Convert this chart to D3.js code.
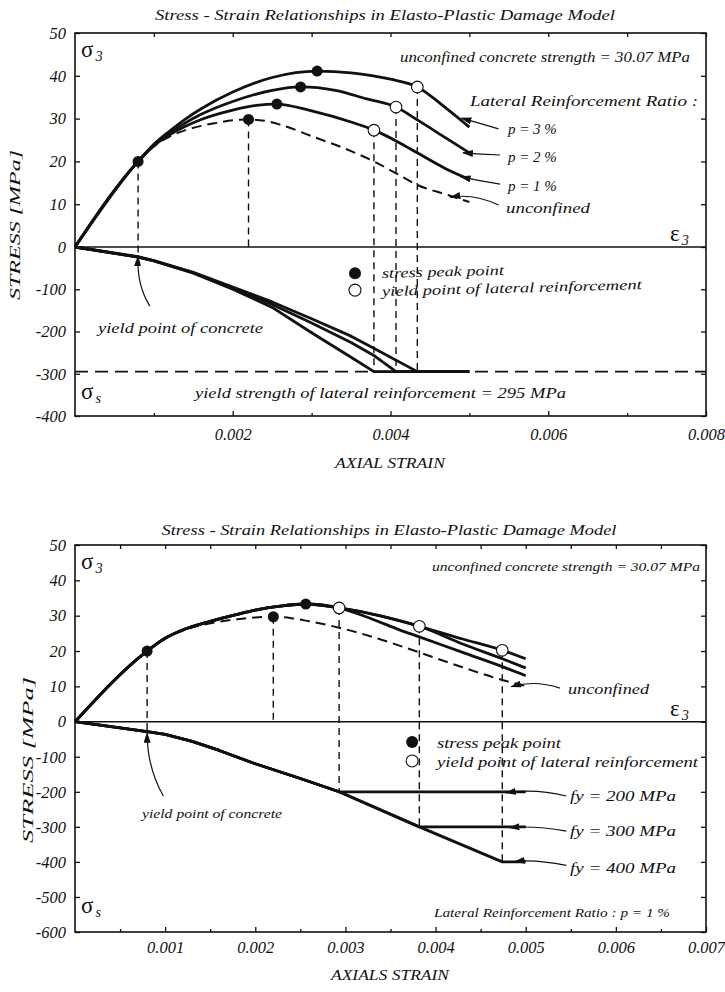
<!DOCTYPE html>
<html><head><meta charset="utf-8">
<script src="https://cdn.jsdelivr.net/npm/d3@7"></script>
<style>body{margin:0;background:#fff}</style>
</head><body><svg id="c" width="725" height="992"></svg>
<script>
// ---------------- DATA ----------------
// Upper chart (lateral reinforcement ratio p)
const topXTicks = [0.002, 0.004, 0.006, 0.008];
const topXMinor = [0.001, 0.003, 0.005, 0.007];
const topYTicks = [50, 40, 30, 20, 10, 0, -100, -200, -300, -400];
const topUnconfined = [[0.0008,20],[0.001,23.5],[0.0012,25.8],[0.0014,27.3],[0.0016,28.3],[0.0018,29],[0.002,29.6],[0.0022,29.8],[0.0024,29.5],[0.0026,28.6],[0.003,25.9],[0.0035,22.4],[0.0038,19.9],[0.0041,16.9],[0.00434,14.5],[0.0047,12.3],[0.005,10.5]];
const topP1 = [[0,0],[0.0008,20],[0.001,23.7],[0.0012,26.2],[0.0014,28.2],[0.0016,29.8],[0.002,32],[0.0023,33.1],[0.00256,33.4],[0.003,31.8],[0.0035,29.2],[0.00379,27.3],[0.0041,24.5],[0.00434,22],[0.0047,18.3],[0.005,15.8]];
const topP2 = [[0,0],[0.0008,20],[0.001,23.8],[0.0012,26.6],[0.0014,29],[0.0016,31],[0.002,34],[0.0025,36.6],[0.00286,37.4],[0.0033,36.6],[0.0037,34.6],[0.00407,32.7],[0.00434,29.7],[0.0047,25.5],[0.005,22]];
const topP3 = [[0,0],[0.0008,20],[0.001,24],[0.0012,27.1],[0.0014,29.9],[0.0016,32.3],[0.002,36.2],[0.0025,39.6],[0.00307,41.1],[0.0035,40.7],[0.004,39.2],[0.00434,37.4],[0.0047,32.5],[0.005,28]];
const topSteelP1 = [[0,0],[0.0008,-24],[0.001,-33],[0.0015,-62],[0.002,-100],[0.0025,-143],[0.003,-203],[0.0035,-261],[0.00379,-295],[0.005,-295]];
const topSteelP2 = [[0,0],[0.0008,-24],[0.001,-33],[0.0015,-61],[0.002,-97],[0.0025,-136],[0.003,-180],[0.0035,-226],[0.0038,-258],[0.00407,-295],[0.005,-295]];
const topSteelP3 = [[0,0],[0.0008,-23],[0.001,-32],[0.0015,-60],[0.002,-95],[0.0025,-130],[0.003,-170],[0.0035,-211],[0.0038,-241],[0.00434,-295],[0.005,-295]];
const topYieldStrength = -295;
const topPeaks = [[0.0008,20],[0.0022,29.8],[0.00256,33.4],[0.00286,37.4],[0.00307,41.1]];
const topYieldPts = [[0.00379,27.3],[0.00407,32.7],[0.00434,37.4]];
const topDrops = [[0.0008,20,-22],[0.0022,29.8,0],[0.00379,27.3,-295],[0.00407,32.7,-295],[0.00434,37.4,-295]];

// Lower chart (yield strength fy, p = 1 %)
const botXTicks = [0.001, 0.002, 0.003, 0.004, 0.005, 0.006, 0.007];
const botXMinor = [0.0005, 0.0015, 0.0025, 0.0035, 0.0045, 0.0055, 0.0065];
const botYTicks = [50, 40, 30, 20, 10, 0, -100, -200, -300, -400, -500, -600];
const botUnconfined = [[0.0008,20],[0.001,23.5],[0.0012,25.8],[0.0014,27.3],[0.0016,28.3],[0.0018,29],[0.002,29.5],[0.0022,29.7],[0.0024,29.3],[0.0026,28.4],[0.00293,26.6],[0.0034,23.2],[0.00382,19.6],[0.0043,15.4],[0.00474,11.8],[0.005,10.1]];
const botConcShared = [[0,0],[0.0008,20],[0.001,23.6],[0.0012,26],[0.0015,28.4],[0.0018,30.4],[0.002,31.6],[0.0023,32.8],[0.00256,33.3],[0.00293,32.2]];
const botConc200 = [[0.0033,29],[0.0036,26],[0.00382,24],[0.0043,19.6],[0.00474,15.6],[0.005,13]];
const botConc300 = [[0.0034,29.9],[0.00382,27],[0.0043,22],[0.00474,17.8],[0.005,15.2]];
const botConc400 = [[0.0034,29.9],[0.00382,27],[0.0043,23.4],[0.00474,20.2],[0.005,17.8]];
const botSteelShared = [[0,0],[0.0008,-28],[0.001,-36],[0.0013,-56],[0.0016,-82],[0.002,-120],[0.0025,-162],[0.00293,-200]];
const botSteel200 = [[0.005,-200]];
const botSteel300 = [[0.00382,-300],[0.005,-300]];
const botSteel400 = [[0.00382,-300],[0.00474,-400],[0.005,-400]];
const botPeaks = [[0.0008,20],[0.0022,29.7],[0.00256,33.3]];
const botYieldPts = [[0.00293,32.2],[0.00382,27],[0.00474,20.2]];
const botDrops = [[0.0008,20,-30],[0.0022,29.7,0],[0.00293,32.2,-200],[0.00382,27,-300],[0.00474,20.2,-400]];

// ---------------- DRAWING ----------------
const F = '"Liberation Serif","Times New Roman",serif';
const INK = '#111';
const svg = d3.select('#c');
const defs = svg.append('defs');
defs.append('marker').attr('id','ah').attr('viewBox','0 0 10 10').attr('refX',9).attr('refY',5)
  .attr('markerWidth',11).attr('markerHeight',7).attr('markerUnits','userSpaceOnUse')
  .attr('preserveAspectRatio','none').attr('orient','auto')
  .append('path').attr('d','M0,0L10,5L0,10z').attr('fill',INK);

function txt(g, px, py, s, o = {}) {
  const t = g.append('text').attr('x', px).attr('y', py).text(s)
    .attr('font-family', F).attr('font-style', o.upright ? 'normal' : 'italic')
    .attr('font-size', o.size || 15).attr('fill', INK)
    .attr('text-anchor', o.anchor || 'start');
  if (o.len) t.attr('textLength', o.len).attr('lengthAdjust', 'spacingAndGlyphs');
  if (o.rot) t.attr('transform', `rotate(${o.rot},${px},${py})`);
  return t;
}
function sym(g, px, py, main, sub, size) {
  const t = g.append('text').attr('x', px).attr('y', py).attr('font-family', F).attr('fill', INK).attr('font-size', size);
  t.append('tspan').text(main);
  t.append('tspan').text(sub).attr('font-style','italic').attr('font-size', size*0.62).attr('dy', 4).attr('dx', 2);
}

function drawChart(c) {
  const g = svg.append('g');
  const b = c.box;
  const x = d3.scaleLinear().domain(c.xDomain).range([b.l, b.r]);
  const y = d3.scaleLinear().domain(c.yDomain).range(c.yRange);

  g.append('rect').attr('x', b.l).attr('y', b.t).attr('width', b.r - b.l).attr('height', b.b - b.t)
    .attr('fill', 'none').attr('stroke', INK).attr('stroke-width', 1.6);

  const styleAxis = (sel, lab) => {
    sel.select('.domain').remove();
    sel.selectAll('line').attr('stroke', INK).attr('stroke-width', 1.3);
    sel.selectAll('text').attr('font-family', F).attr('font-style', 'italic')
      .attr('font-size', lab).attr('fill', INK);
  };
  styleAxis(g.append('g').attr('transform', `translate(${b.l},0)`)
    .call(d3.axisLeft(y).tickValues(c.yTicks).tickSize(-5).tickPadding(9).tickFormat(d => String(d))), 16.5);
  styleAxis(g.append('g').attr('transform', `translate(${b.r},0)`)
    .call(d3.axisRight(y).tickValues(c.yTicks).tickSize(-5).tickFormat('')), 0);
  styleAxis(g.append('g').attr('transform', `translate(0,${b.b})`)
    .call(d3.axisBottom(x).tickValues(c.xTicks).tickSize(-5).tickPadding(c.xPad).tickFormat(d => String(d))), 16.5);
  styleAxis(g.append('g').attr('transform', `translate(0,${b.b})`)
    .call(d3.axisBottom(x).tickValues(c.xMinor).tickSize(-3).tickFormat('')), 0);
  styleAxis(g.append('g').attr('transform', `translate(0,${b.t})`)
    .call(d3.axisTop(x).tickValues(c.xTicks.concat(c.xMinor)).tickSize(-4).tickFormat('')), 0);

  g.append('line').attr('x1', b.l).attr('x2', b.r).attr('y1', y(0)).attr('y2', y(0))
    .attr('stroke', INK).attr('stroke-width', 1.6);

  if (c.refLine !== undefined) {
    g.append('line').attr('x1', b.l).attr('x2', b.r).attr('y1', y(c.refLine)).attr('y2', y(c.refLine))
      .attr('stroke', INK).attr('stroke-width', 1.6).attr('stroke-dasharray', '13,7');
  }

  g.selectAll('.drop').data(c.drops).join('line')
    .attr('x1', d => x(d[0])).attr('x2', d => x(d[0]))
    .attr('y1', d => y(d[1])).attr('y2', d => y(d[2]))
    .attr('stroke', INK).attr('stroke-width', 1.4).attr('stroke-dasharray', '7,5');

  const smooth = d3.line().x(d => x(d[0])).y(d => y(d[1])).curve(d3.curveMonotoneX);
  const straight = d3.line().x(d => x(d[0])).y(d => y(d[1])).curve(d3.curveLinear);
  c.solid.forEach(s => g.append('path').attr('d', smooth(s)).attr('fill', 'none')
    .attr('stroke', INK).attr('stroke-width', 2.8).attr('stroke-linejoin', 'round'));
  c.steel.forEach(s => g.append('path').attr('d', straight(s)).attr('fill', 'none')
    .attr('stroke', INK).attr('stroke-width', 2.8).attr('stroke-linejoin', 'round'));
  c.dashed.forEach(s => g.append('path').attr('d', smooth(s)).attr('fill', 'none')
    .attr('stroke', INK).attr('stroke-width', 2).attr('stroke-dasharray', '10,6'));

  g.selectAll('.pk').data(c.peaks).join('circle')
    .attr('cx', d => x(d[0])).attr('cy', d => y(d[1])).attr('r', 5.5).attr('fill', INK);
  g.selectAll('.yp').data(c.yields).join('circle')
    .attr('cx', d => x(d[0])).attr('cy', d => y(d[1])).attr('r', 5.8)
    .attr('fill', '#fff').attr('stroke', INK).attr('stroke-width', 1.1);

  c.arrows.forEach(a => {
    const [s, m, e] = a;
    g.append('path').attr('d', `M${x(s[0])},${y(s[1])}Q${x(m[0])},${y(m[1])} ${x(e[0])},${y(e[1])}`)
      .attr('fill', 'none').attr('stroke', INK).attr('stroke-width', 1.2).attr('marker-end', 'url(#ah)');
  });

  const L = c.legend;
  g.append('circle').attr('cx', x(L.pos[0])).attr('cy', y(L.pos[1])).attr('r', 6).attr('fill', INK);
  g.append('circle').attr('cx', x(L.pos[0])).attr('cy', y(L.pos[2])).attr('r', 6)
    .attr('fill', '#fff').attr('stroke', INK).attr('stroke-width', 1.1);

  return { g, x, y };
}

// ---------- upper chart ----------
const T = drawChart({
  box: { l: 75, r: 706, t: 33, b: 416 },
  xDomain: [0, 0.008], yDomain: [-400, 0, 50], yRange: [416, 247, 33],
  xTicks: topXTicks, xMinor: topXMinor, yTicks: topYTicks, xPad: 12,
  refLine: topYieldStrength,
  drops: topDrops,
  solid: [topP1, topP2, topP3],
  steel: [topSteelP1, topSteelP2, topSteelP3],
  dashed: [topUnconfined],
  peaks: topPeaks, yields: topYieldPts,
  arrows: [
    [[0.00537,27.6],[0.00515,28.8],[0.0049,30.1]],
    [[0.00539,21.5],[0.00515,21.7],[0.00492,22.0]],
    [[0.00539,14.7],[0.00515,15.4],[0.00489,16.4]],
    [[0.00537,9.8],[0.00505,12.6],[0.00476,11.6]],
    [[0.00095,-140],[0.00078,-90],[0.0008,-22]]
  ],
  legend: { pos: [0.00355, -62, -102] }
});
{
  const g = T.g;
  txt(g, 385, 20, 'Stress - Strain Relationships in Elasto-Plastic Damage Model', { anchor: 'middle', size: 15, len: 460 });
  sym(g, 81, 57, 'σ', '3', 23);
  sym(g, 670, 241, 'ε', '3', 23);
  sym(g, 81, 399, 'σ', 's', 23);
  txt(g, 400, 62, 'unconfined concrete strength = 30.07 MPa', { size: 15, len: 290 });
  txt(g, 470, 106, 'Lateral Reinforcement Ratio :', { size: 15, len: 228 });
  txt(g, 508, 134, 'p = 3 %', { size: 15 });
  txt(g, 508, 162, 'p = 2 %', { size: 15 });
  txt(g, 508, 191, 'p = 1 %', { size: 15 });
  txt(g, 506, 213, 'unconfined', { size: 15, len: 84 });
  txt(g, 382, 278, 'stress peak point', { size: 14, len: 122, rot: -1.5 });
  txt(g, 382, 296, 'yield point of lateral reinforcement', { size: 14, len: 260, rot: -1.5 });
  txt(g, 98, 333, 'yield point of concrete', { size: 14, len: 165 });
  txt(g, 195, 398, 'yield strength of lateral reinforcement = 295 MPa', { size: 15, len: 371 });
  txt(g, 390, 468, 'AXIAL STRAIN', { anchor: 'middle', size: 15, len: 110 });
  txt(g, 0, 0, 'STRESS [MPa]', { anchor: 'middle', size: 15, len: 150 })
    .attr('transform', 'translate(20,225) rotate(-90)');
}

// ---------- lower chart ----------
const B = drawChart({
  box: { l: 75, r: 706, t: 545, b: 932 },
  xDomain: [0, 0.007], yDomain: [-600, 0, 50], yRange: [932, 721.7, 545],
  xTicks: botXTicks, xMinor: botXMinor, yTicks: botYTicks, xPad: 9,
  drops: botDrops,
  solid: [botConcShared.concat(botConc200), botConcShared.concat(botConc300), botConcShared.concat(botConc400)],
  steel: [botSteelShared.concat(botSteel200), botSteelShared.concat(botSteel300), botSteelShared.concat(botSteel400)],
  dashed: [botUnconfined],
  peaks: botPeaks, yields: botYieldPts,
  arrows: [
    [[0.00538,9.5],[0.0051,11.9],[0.00484,9.9]],
    [[0.00545,-212],[0.0051,-190],[0.00478,-203]],
    [[0.00545,-312],[0.0051,-296],[0.00482,-302]],
    [[0.00545,-410],[0.0051,-392],[0.00488,-399]],
    [[0.00098,-212],[0.0008,-130],[0.0008,-32]]
  ],
  legend: { pos: [0.00374, -58, -112] }
});
{
  const g = B.g;
  txt(g, 389, 535, 'Stress - Strain Relationships in Elasto-Plastic Damage Model', { anchor: 'middle', size: 15, len: 455 });
  sym(g, 81, 569, 'σ', '3', 23);
  sym(g, 670, 716, 'ε', '3', 23);
  sym(g, 81, 913, 'σ', 's', 23);
  txt(g, 432, 571, 'unconfined concrete strength = 30.07 MPa', { size: 12.5, len: 268 });
  txt(g, 568, 694, 'unconfined', { size: 15, len: 81 });
  txt(g, 437, 748, 'stress peak point', { size: 14, len: 124 });
  txt(g, 437, 767, 'yield point of lateral reinforcement', { size: 14, len: 261 });
  txt(g, 570, 801, 'fy = 200 MPa', { size: 15, len: 106 });
  txt(g, 570, 836, 'fy = 300 MPa', { size: 15, len: 106 });
  txt(g, 570, 873, 'fy = 400 MPa', { size: 15, len: 106 });
  txt(g, 142, 818, 'yield point of concrete', { size: 12.5, len: 140 });
  txt(g, 434, 917, 'Lateral Reinforcement Ratio : p = 1 %', { size: 12, len: 236 });
  txt(g, 390, 980, 'AXIALS STRAIN', { anchor: 'middle', size: 15, len: 118 });
  txt(g, 0, 0, 'STRESS [MPa]', { anchor: 'middle', size: 15, len: 166 })
    .attr('transform', 'translate(33,760) rotate(-90)');
}
</script>
</body></html>
